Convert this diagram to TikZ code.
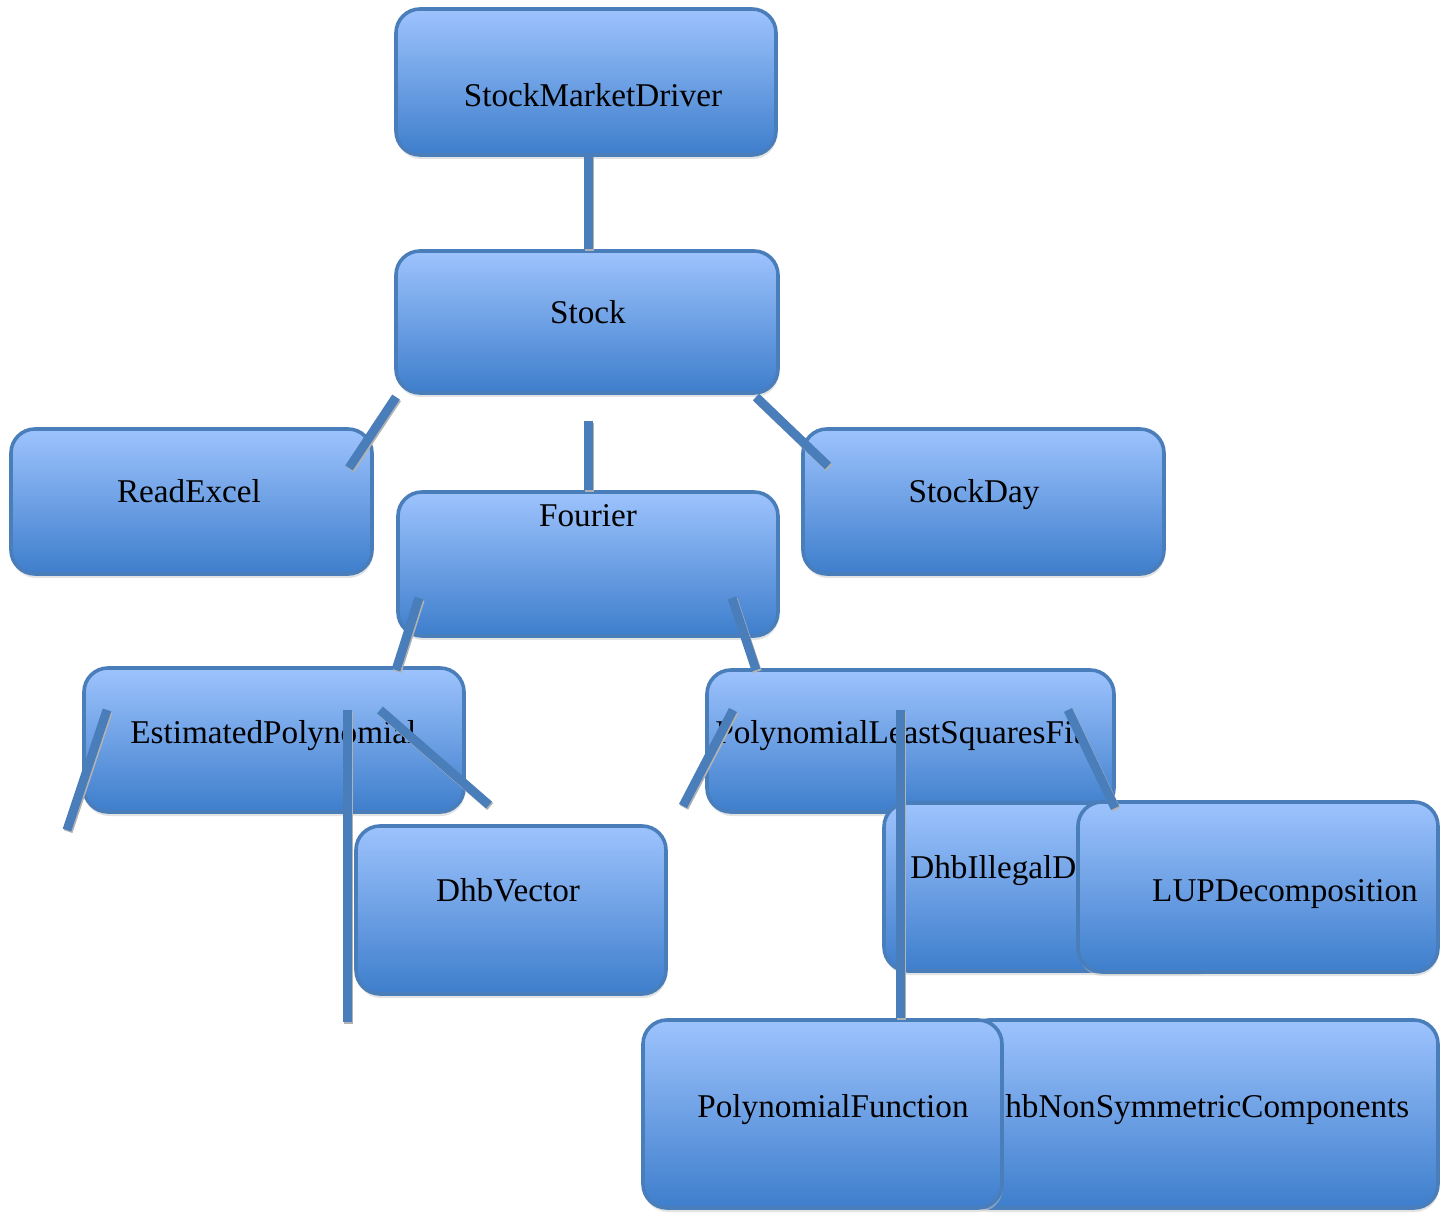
\documentclass[tikz,border=0pt]{standalone}
\usepackage{fontspec}
\setmainfont{Liberation Serif}
\usepackage{tikz}
\usetikzlibrary{shadows}
\definecolor{boxline}{RGB}{74,126,187}
\definecolor{boxtop}{RGB}{157,195,253}
\definecolor{boxbot}{RGB}{62,126,204}
\tikzset{
  box/.style={rectangle, rounded corners=12pt, draw=boxline, line width=1.8pt,
    top color=boxtop, bottom color=boxbot, inner sep=0pt,
    drop shadow={shadow xshift=0.4pt, shadow yshift=-2pt, fill=black!22}},
  lbl/.style={anchor=base, inner sep=0pt, font=\fontsize{16.6}{20}\selectfont},
  link/.style={draw=boxline, line width=4.5pt,
    preaction={draw=black!30, line width=4.5pt, transform canvas={xshift=0.6pt,yshift=-0.8pt}}}
}
\begin{document}
\begin{tikzpicture}[x=0.5pt,y=-0.5pt]
\useasboundingbox (0,0) rectangle (1441,1213);
% boxes
\node[box, minimum width=190pt, minimum height=73pt] (smd) at (586,82) {};
\node[lbl] (smdtxt) at (593,107) {StockMarketDriver};
\node[box, minimum width=191pt, minimum height=71pt] (stock) at (587,322) {};
\node[lbl] (stocktxt) at (588,324) {Stock};
\node[box, minimum width=180.5pt, minimum height=72.5pt] (readexcel) at (191.5,501.5) {};
\node[lbl] (readexceltxt) at (189,503) {ReadExcel};
\node[box, minimum width=180.5pt, minimum height=72.5pt] (stockday) at (983.5,501.5) {};
\node[lbl] (stockdaytxt) at (974,503) {StockDay};
\node[box, minimum width=190pt, minimum height=72pt] (fourier) at (588,564) {};
\node[lbl] (fouriertxt) at (588,527) {Fourier};
\node[box, minimum width=190pt, minimum height=72pt] (estpoly) at (274,740) {};
\node[lbl, anchor=base west] (estpolytxt) at (130,744) {EstimatedPolynomial};
\node[box, minimum width=155pt, minimum height=84pt] (dhbvector) at (511,910) {};
\node[lbl] (dhbvectortxt) at (508,901) {DhbVector};
\node[box, minimum width=203.5pt, minimum height=71pt] (plsfit) at (910.5,741) {};
\node[lbl, anchor=base west] (plsfittxt) at (715,744) {PolynomialLeastSquaresFit};
\node[box, minimum width=168pt, minimum height=84pt] (illegal) at (1052,887) {};
\node[lbl, anchor=base west] (illegaltxt) at (910,878) {DhbIllegalDimension};
\node[box, minimum width=180pt, minimum height=85pt] (lup) at (1258,887) {};
\node[lbl] (luptxt) at (1285,901) {LUPDecomposition};
\node[box, minimum width=236.5pt, minimum height=94pt] (nonsym) at (1201.5,1114) {};
\node[lbl, anchor=base west] (nonsymtxt) at (981,1117) {DhbNonSymmetricComponents};
\node[box, minimum width=179.5pt, minimum height=94pt] (polyfn) at (822.5,1114) {};
\node[lbl] (polyfntxt) at (833,1117) {PolynomialFunction};
% free ends of the links
\coordinate (smdlow) at (588,155);
\coordinate (stkleft) at (396,397);
\coordinate (rxin) at (349,468);
\coordinate (stkmid) at (588,421);
\coordinate (stkright) at (756,397);
\coordinate (sdin) at (828,466);
\coordinate (fleft) at (419,598);
\coordinate (epin) at (396,670);
\coordinate (fright) at (732,598);
\coordinate (plin) at (756,670);
\coordinate (ep1) at (107,710);
\coordinate (ep1end) at (67,830);
\coordinate (ep2) at (347,710);
\coordinate (ep2end) at (347,1022);
\coordinate (ep3) at (380,710);
\coordinate (ep3end) at (489,805);
\coordinate (pl1) at (733,710);
\coordinate (pl1end) at (683,806);
\coordinate (pl2) at (900,710);
\coordinate (pl3) at (1068,710);
\coordinate (lupin) at (1115,808);
% links
\draw[link] (smdlow) -- (smdlow |- stock.north);
\draw[link] (stkleft) -- (rxin);
\draw[link] (stkmid) -- (fourier.north);
\draw[link] (stkright) -- (sdin);
\draw[link] (fleft) -- (epin);
\draw[link] (fright) -- (plin);
\draw[link] (ep1) -- (ep1end);
\draw[link] (ep2) -- (ep2end);
\draw[link] (ep3) -- (ep3end);
\draw[link] (pl1) -- (pl1end);
\draw[link] (pl2) -- (pl2 |- polyfn.north);
\draw[link] (pl3) -- (lupin);
\end{tikzpicture}
\end{document}
